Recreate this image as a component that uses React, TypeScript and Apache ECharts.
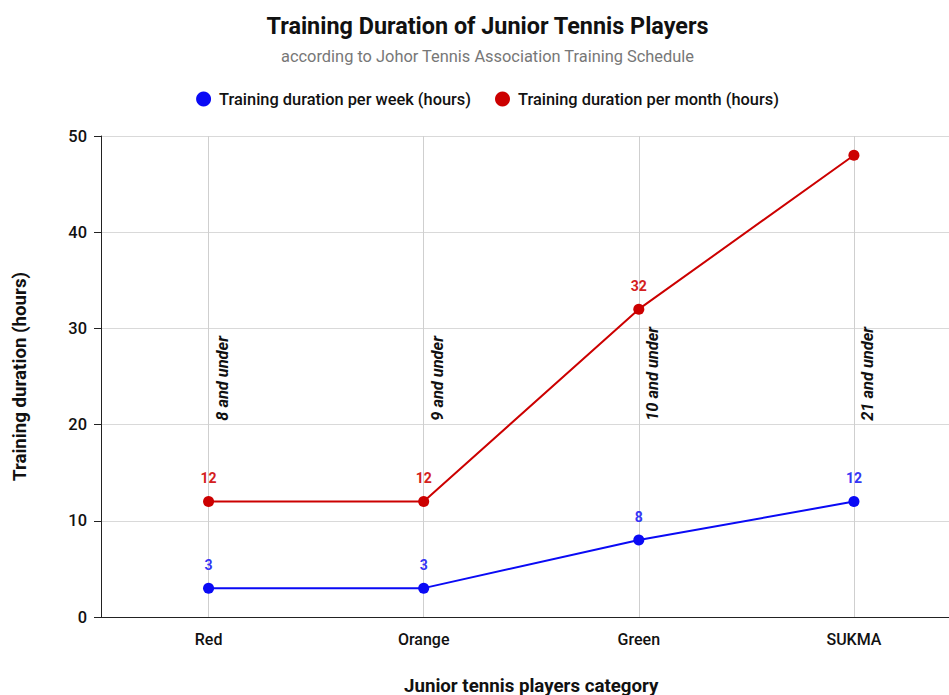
import React, { useEffect, useRef } from "react";
import * as echarts from "echarts";

const categories = ["Red", "Orange", "Green", "SUKMA"];
const perWeek = [3, 3, 8, 12];
const perMonth = [12, 12, 32, 48];
const perMonthLabelShown = [true, true, true, false];
const ageGroups = ["8 and under", "9 and under", "10 and under", "21 and under"];
const ageLabelLevel = 20.4;
const yTicks = { min: 0, max: 50, interval: 10 };

const FONT = "Roboto";

export default function App() {
  const ref = useRef<HTMLDivElement>(null);
  useEffect(() => {
    document.body.style.margin = "0";
    document.body.style.overflow = "hidden";
    const chart = echarts.init(ref.current!, null, { renderer: "svg" });
    chart.setOption({
      animation: false,
      backgroundColor: "#ffffff",
      textStyle: { fontFamily: FONT },
      title: [
        {
          text: "Training Duration of Junior Tennis Players",
          left: "center",
          top: 9,
          textStyle: { fontFamily: FONT, fontSize: 23.4, fontWeight: "bold", color: "#111" },
        },
        {
          text: "according to Johor Tennis Association Training Schedule",
          left: "center",
          top: 43,
          textStyle: { fontFamily: FONT, fontSize: 16.4, fontWeight: "normal", color: "#777" },
        },
      ],
      legend: {
        data: ["Training duration per week (hours)", "Training duration per month (hours)"],
        top: 86,
        left: "center",
        icon: "circle",
        itemWidth: 15,
        itemHeight: 15,
        itemGap: 24,
        textStyle: {
          fontFamily: FONT,
          fontSize: 16.4,
          fontWeight: 500,
          color: "#111",
          padding: [0, 0, 0, 3],
        },
      },
      grid: {
        left: 101,
        right: 13.5,
        top: 136,
        bottom: 78,
        containLabel: false,
        outerBoundsMode: "none",
      },
      xAxis: {
        type: "category",
        data: categories,
        name: "Junior tennis players category",
        nameLocation: "middle",
        nameGap: 59,
        nameTextStyle: { fontFamily: FONT, fontSize: 18.7, fontWeight: "bold", color: "#111" },
        axisLine: { lineStyle: { color: "#222", width: 1 } },
        axisTick: { alignWithLabel: true, length: 7, lineStyle: { color: "#222" } },
        axisLabel: { margin: 14, fontFamily: FONT, fontSize: 16, fontWeight: 500, color: "#111" },
        splitLine: { show: false },
      },
      yAxis: {
        type: "value",
        min: yTicks.min,
        max: yTicks.max,
        interval: yTicks.interval,
        name: "Training duration (hours)",
        nameLocation: "middle",
        nameGap: 72,
        nameTextStyle: { fontFamily: FONT, fontSize: 18.7, fontWeight: "bold", color: "#111" },
        axisLine: { show: true, lineStyle: { color: "#222", width: 1 } },
        axisTick: { show: true, length: 7, lineStyle: { color: "#222" } },
        axisLabel: { margin: 14, fontFamily: FONT, fontSize: 16.4, fontWeight: 500, color: "#111" },
        splitLine: { lineStyle: { color: "#d9d9d9", width: 1 } },
      },
      series: [
        {
          name: "Training duration per week (hours)",
          type: "line",
          data: perWeek,
          color: "#0a0af5",
          symbol: "circle",
          symbolSize: 11,
          lineStyle: { width: 2, color: "#0a0af5" },
          itemStyle: { color: "#0a0af5" },
          label: {
            show: true,
            position: "top",
            distance: 11,
            fontFamily: FONT,
            fontSize: 14,
            fontWeight: "bold",
            color: "#3535f5",
          },
          z: 3,
        },
        {
          name: "Training duration per month (hours)",
          type: "line",
          data: perMonth.map((v, i) => ({
            value: v,
            label: { show: perMonthLabelShown[i] },
          })),
          color: "#cc0000",
          symbol: "circle",
          symbolSize: 11,
          lineStyle: { width: 2, color: "#cc0000" },
          itemStyle: { color: "#cc0000" },
          label: {
            show: true,
            position: "top",
            distance: 11,
            fontFamily: FONT,
            fontSize: 14,
            fontWeight: "bold",
            color: "#d42020",
          },
          markLine: {
            silent: true,
            symbol: "none",
            label: { show: false },
            lineStyle: { color: "#cfcfcf", width: 1, type: "solid" },
            data: categories.map((c) => ({ xAxis: c })),
            z: 1,
          },
          z: 3,
        },
        {
          name: "ages",
          type: "scatter",
          data: ageGroups.map(() => ageLabelLevel),
          symbolSize: 0,
          silent: true,
          label: {
            show: true,
            formatter: (p: any) => ageGroups[p.dataIndex],
            position: [14, 0],
            rotate: 90,
            align: "left",
            verticalAlign: "middle",
            fontFamily: FONT,
            fontSize: 16.4,
            fontStyle: "italic",
            fontWeight: "bold",
            color: "#111",
            opacity: 1,
          },
          z: 2,
        },
      ],
    });
    return () => chart.dispose();
  }, []);
  return (
    <div style={{ position: "fixed", left: 0, top: 0, width: 949, height: 695, overflow: "hidden" }}>
      <div ref={ref} style={{ width: 975, height: 695 }} />
    </div>
  );
}
